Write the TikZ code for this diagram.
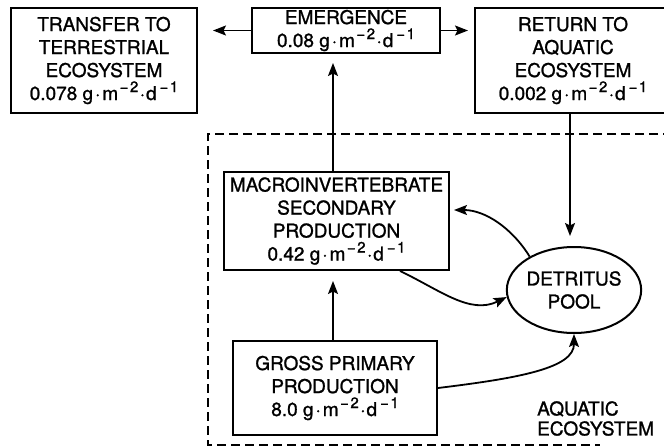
\documentclass[tikz,border=0pt]{standalone}
\usepackage{fontspec}
\setmainfont{TeX Gyre Heros}[FakeBold=1.2]
\usetikzlibrary{arrows.meta,shapes.geometric}
\newcommand\supnum[1]{\raisebox{8pt}{\fontsize{15}{15}\selectfont −\kern1.5pt#1}}
\newcommand\gmd{g\kern2pt·\kern2pt m\kern1.5pt\supnum{2}\kern1.5pt·\kern1pt d\kern3pt\supnum{1}}
\begin{document}
\begin{tikzpicture}[x=1pt,y=-1pt,
  box/.style={draw, line width=2pt, align=center, inner sep=0pt,
    font=\fontsize{19}{23}\selectfont},
  lbl/.style={align=left, inner sep=0pt, font=\fontsize{19}{20}\selectfont},
  arr/.style={line width=1.8pt, -{Stealth[length=13pt,width=10pt,inset=2.5pt]}},
  zone/.style={line width=1.7pt, dash pattern=on 9pt off 5pt}]
\useasboundingbox (0,0) rectangle (664,447);

% aquatic ecosystem boundary
\draw[zone] (700,134) -- (208,134) -- (208,445) -- (600,445);

\node[box, minimum width=186pt, minimum height=105pt] (trans) at (104,60.5)
  {TRANSFER TO\\TERRESTRIAL\\ECOSYSTEM\\0.078 \gmd};
\node[box, minimum width=188pt, minimum height=45pt] (emer) at (346,30.5)
  {EMERGENCE\\0.08 \gmd};
\node[box, minimum width=196pt, minimum height=105pt] (ret) at (573,60.5)
  {RETURN TO\\AQUATIC\\ECOSYSTEM\\0.002 \gmd};
\node[box, minimum width=225pt, minimum height=98pt] (macro) at (336.5,221)
  {MACROINVERTEBRATE\\SECONDARY\\PRODUCTION\\0.42 \gmd};
\node[box, minimum width=204pt, minimum height=94pt] (gpp) at (335,388)
  {GROSS PRIMARY\\PRODUCTION\\8.0 \gmd};
\node[box, ellipse, minimum width=128pt, minimum height=86pt] (det) at (574,290)
  {DETRITUS\\POOL};
\node[lbl, anchor=west] (aq) at (537,418.5) {AQUATIC\\ECOSYSTEM};

\coordinate (mtop) at ([xshift=-3.5pt]macro.north);
\coordinate (gtop) at ([xshift=-2pt]gpp.north);
\coordinate (rbot) at ([xshift=-3pt]ret.south);

\draw[arr, shorten >=15pt] (emer.west) -- (trans.east |- emer.west);
\draw[arr, shorten >=6pt] (emer.east) -- (ret.west |- emer.east);
\draw[arr, shorten >=9pt] (mtop) -- (mtop |- emer.south);
\draw[arr, shorten >=10pt] (rbot) -- (rbot |- det.north);
\draw[arr, shorten >=10pt] (gtop) -- (gtop |- macro.south);
\draw[arr] (det.143) .. controls (512,228) and (485,210) .. ([xshift=4pt,yshift=11pt]macro.east);
\draw[arr] ([xshift=63.5pt]macro.south) .. controls (440,290) and (470,315) .. (det.186);
\draw[arr] (gpp.east) .. controls (520,378) and (574,368) .. (det.south);
\end{tikzpicture}
\end{document}
